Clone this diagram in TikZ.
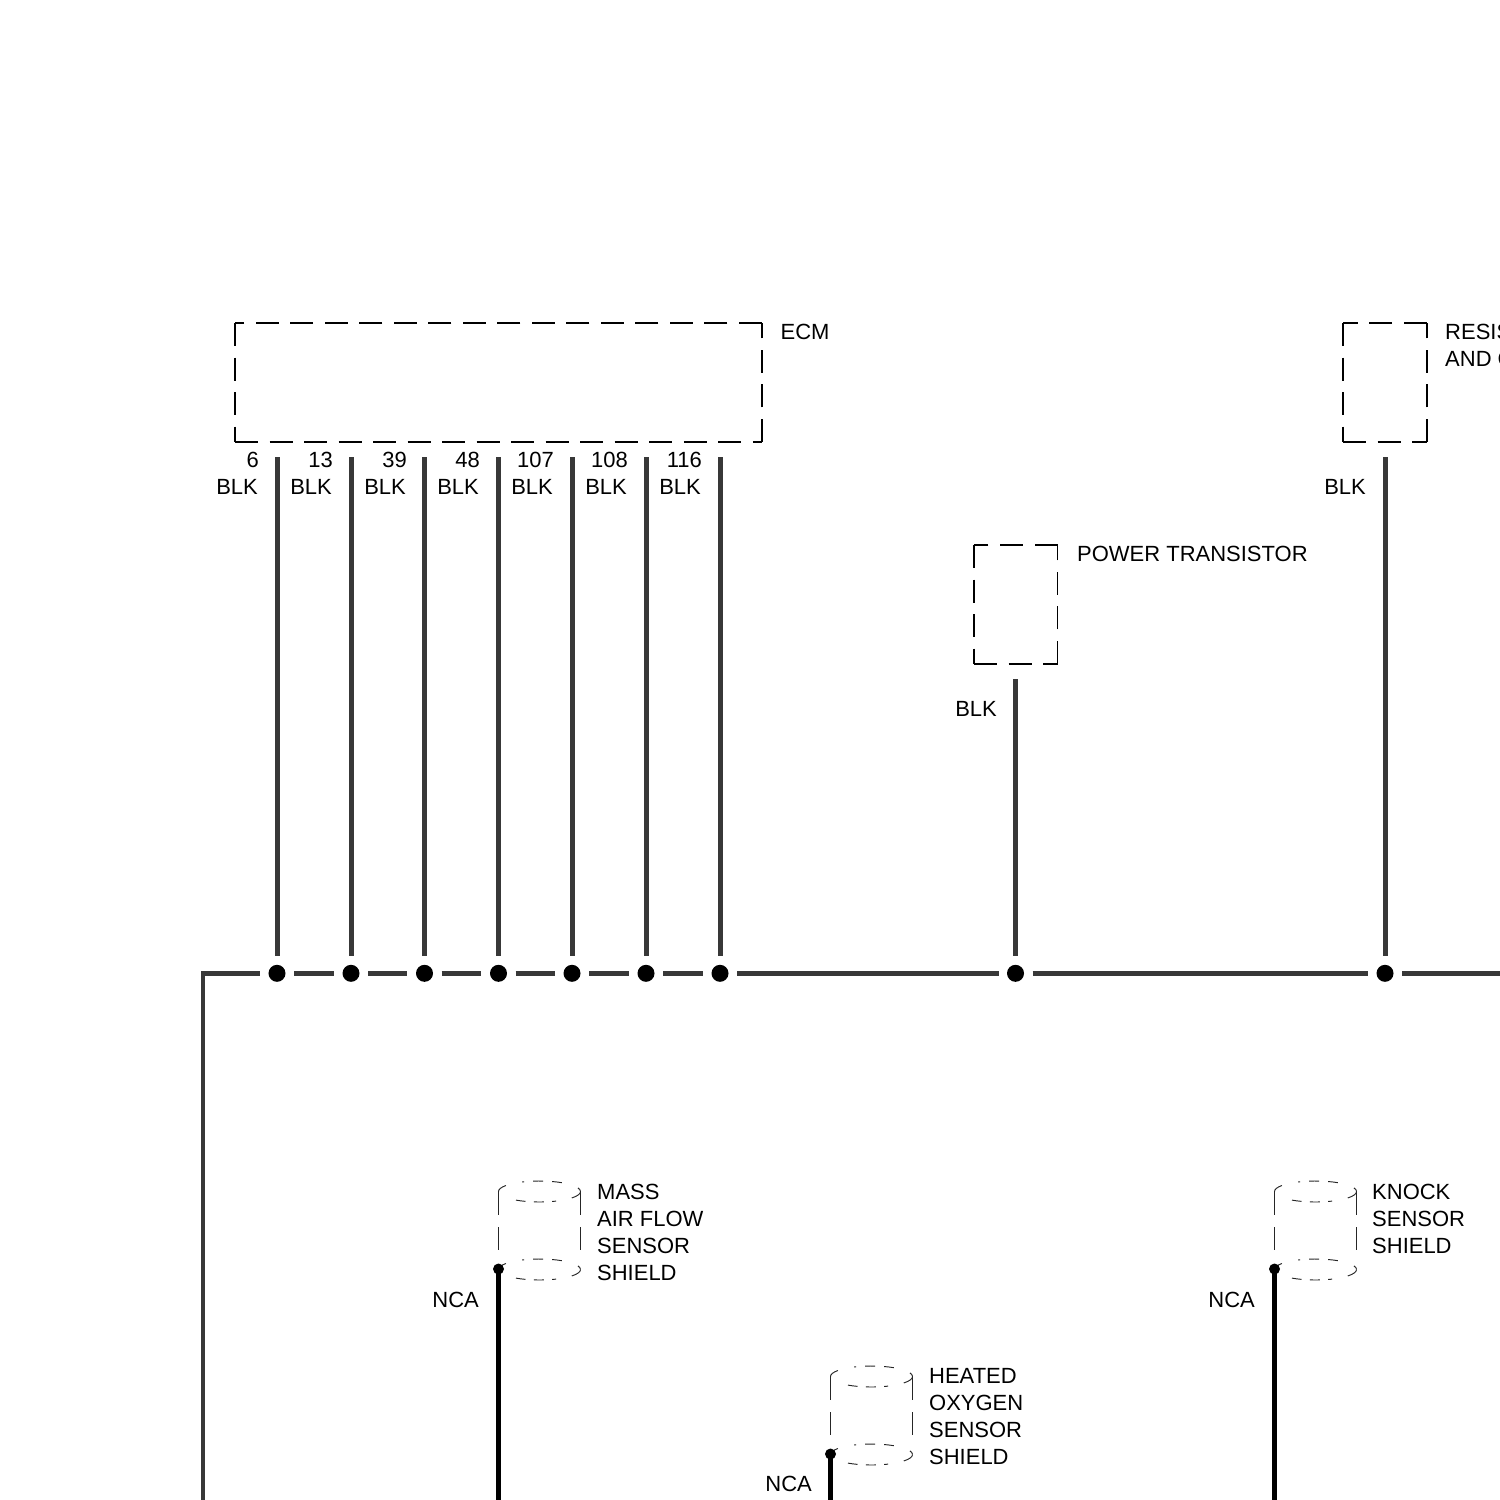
\documentclass[tikz,border=0pt]{standalone}
\usepackage{fontspec}
\setmainfont{Liberation Sans}
\definecolor{wiregray}{HTML}{383838}
\tikzset{
  wire/.style={line width=1.42pt, wiregray},
  shieldwire/.style={line width=1.42pt, black},
  splice/.style={circle, fill=black, inner sep=0pt, minimum size=0.17cm, outer sep=0.085cm},
  shielddot/.style={circle, fill=black, inner sep=0pt, minimum size=0.11cm},
  lbl/.style={inner sep=0pt, font=\fontsize{6.25}{7.68}\selectfont, align=left},
  boxline/.style={line width=0.55pt, dash pattern=on 0.23cm off 0.115cm},
  shieldline/.style={line width=0.27pt, black!85}
}
% component box, each side starts on a fresh dash
\newcommand{\compbox}[4]{
  \draw[boxline] (#1, #4) -- (#3, #4);
  \draw[boxline] (#3, #4) -- (#3, #2);
  \draw[boxline] (#3, #2) -- (#1, #2);
  \draw[boxline] (#1, #2) -- (#1, #4);
}
% broken ring of a shield can, around its centre
\newcommand{\shieldring}[2]{
  \foreach \a/\b in {180/145, 115/112, 99/85, 72/57, 20/0, 235/250, 262/276, 288/294, 322/360} {
    \draw[shieldline] ([shift={(#1, #2)}] -\a:41 and 10.5) arc[start angle=-\a, end angle=-\b, x radius=41, y radius=10.5];
  }
}
% shield can, given by its left edge and the top of its upper ring
\newcommand{\shieldcan}[2]{
  \shieldring{#1+41.5}{#2+10.5}
  \shieldring{#1+41.5}{#2+88.5}
  \draw[shieldline] (#1+0.5, #2+10) -- (#1+0.5, #2+34);
  \draw[shieldline] (#1+0.5, #2+46) -- (#1+0.5, #2+69);
  \draw[shieldline] (#1+82.5, #2+10) -- (#1+82.5, #2+34);
  \draw[shieldline] (#1+82.5, #2+46) -- (#1+82.5, #2+69);
}
\begin{document}
\begin{tikzpicture}[x=0.01cm, y=-0.01cm]
\clip (0, 0) rectangle (1500, 1500);
\compbox{235}{323}{762}{442}
\compbox{974}{545}{1057.5}{664}
\compbox{1343}{323}{1426.7}{442}
\node[lbl, anchor=base west] (ECM) at (780, 339) {ECM};
\node[lbl, anchor=base west] (PT) at (1076.5, 561) {POWER TRANSISTOR};
\node[lbl, anchor=base west] (Res1) at (1444.5, 339) {RESIS};
\node[lbl, anchor=base west] (Res2) at (1444.5, 366) {AND C};
% pin numbers
\node[lbl, anchor=base east] (Pin1) at (259.5, 467) {6};
\node[lbl, anchor=base east] (Pin2) at (333.5, 467) {13};
\node[lbl, anchor=base east] (Pin3) at (407.5, 467) {39};
\node[lbl, anchor=base east] (Pin4) at (480.5, 467) {48};
\node[lbl, anchor=base east] (Pin5) at (554.5, 467) {107};
\node[lbl, anchor=base east] (Pin6) at (628.5, 467) {108};
\node[lbl, anchor=base east] (Pin7) at (702.5, 467) {116};
% wire colours
\node[lbl, anchor=base east] (Col1) at (258.5, 494) {BLK};
\node[lbl, anchor=base east] (Col2) at (332.5, 494) {BLK};
\node[lbl, anchor=base east] (Col3) at (406.5, 494) {BLK};
\node[lbl, anchor=base east] (Col4) at (479.5, 494) {BLK};
\node[lbl, anchor=base east] (Col5) at (553.5, 494) {BLK};
\node[lbl, anchor=base east] (Col6) at (627.5, 494) {BLK};
\node[lbl, anchor=base east] (Col7) at (701.5, 494) {BLK};
\node[lbl, anchor=base east] (Col8) at (997.5, 716) {BLK};
\node[lbl, anchor=base east] (Col9) at (1366.5, 494) {BLK};
% splices on the ground bus
\node[splice] (S1) at (277, 973.3) {};
\node[splice] (S2) at (351, 973.3) {};
\node[splice] (S3) at (424.5, 973.3) {};
\node[splice] (S4) at (498.5, 973.3) {};
\node[splice] (S5) at (572, 973.3) {};
\node[splice] (S6) at (646, 973.3) {};
\node[splice] (S7) at (720, 973.3) {};
\node[splice] (S8) at (1015.5, 973.3) {};
\node[splice] (S9) at (1385, 973.3) {};
\coordinate (BusEnd) at (203, 1500);
\coordinate (BusCorner) at (203, 973.3);
\coordinate (BusRight) at (1500, 973.3);
\draw[wire] (BusEnd) -- (BusCorner) -- (S1);
\draw[wire] (S1) -- (S2);
\draw[wire] (S2) -- (S3);
\draw[wire] (S3) -- (S4);
\draw[wire] (S4) -- (S5);
\draw[wire] (S5) -- (S6);
\draw[wire] (S6) -- (S7);
\draw[wire] (S7) -- (S8);
\draw[wire] (S8) -- (S9);
\draw[wire] (S9) -- (BusRight);
\coordinate (T1) at (277, 457);
\coordinate (T2) at (351, 457);
\coordinate (T3) at (424.5, 457);
\coordinate (T4) at (498.5, 457);
\coordinate (T5) at (572, 457);
\coordinate (T6) at (646, 457);
\coordinate (T7) at (720, 457);
\coordinate (T8) at (1015.5, 679);
\coordinate (T9) at (1385, 457);
\draw[wire] (T1) -- (S1);
\draw[wire] (T2) -- (S2);
\draw[wire] (T3) -- (S3);
\draw[wire] (T4) -- (S4);
\draw[wire] (T5) -- (S5);
\draw[wire] (T6) -- (S6);
\draw[wire] (T7) -- (S7);
\draw[wire] (T8) -- (S8);
\draw[wire] (T9) -- (S9);
% shields
\shieldcan{498}{1181}
\shieldcan{830}{1366}
\shieldcan{1274}{1181}
\node[shielddot] (D1) at (498.5, 1269) {};
\node[shielddot] (D2) at (830.5, 1454) {};
\node[shielddot] (D3) at (1274.5, 1269) {};
\coordinate (E1) at (498.5, 1500);
\coordinate (E2) at (830.5, 1500);
\coordinate (E3) at (1274.5, 1500);
\draw[shieldwire] (D1.center) -- (E1);
\draw[shieldwire] (D2.center) -- (E2);
\draw[shieldwire] (D3.center) -- (E3);
\node[lbl, anchor=base east] (Nca1) at (479.5, 1307) {NCA};
\node[lbl, anchor=base east] (Nca2) at (812.5, 1491) {NCA};
\node[lbl, anchor=base east] (Nca3) at (1255.5, 1307) {NCA};
\node[lbl, anchor=west] (Maf) at (596.5, 1232.4) {MASS\\AIR FLOW\\SENSOR\\SHIELD};
\node[lbl, anchor=west] (Ho2) at (928.5, 1417) {HEATED\\OXYGEN\\SENSOR\\SHIELD};
\node[lbl, anchor=west] (Knock) at (1371.5, 1219) {KNOCK\\SENSOR\\SHIELD};
\end{tikzpicture}
\end{document}
